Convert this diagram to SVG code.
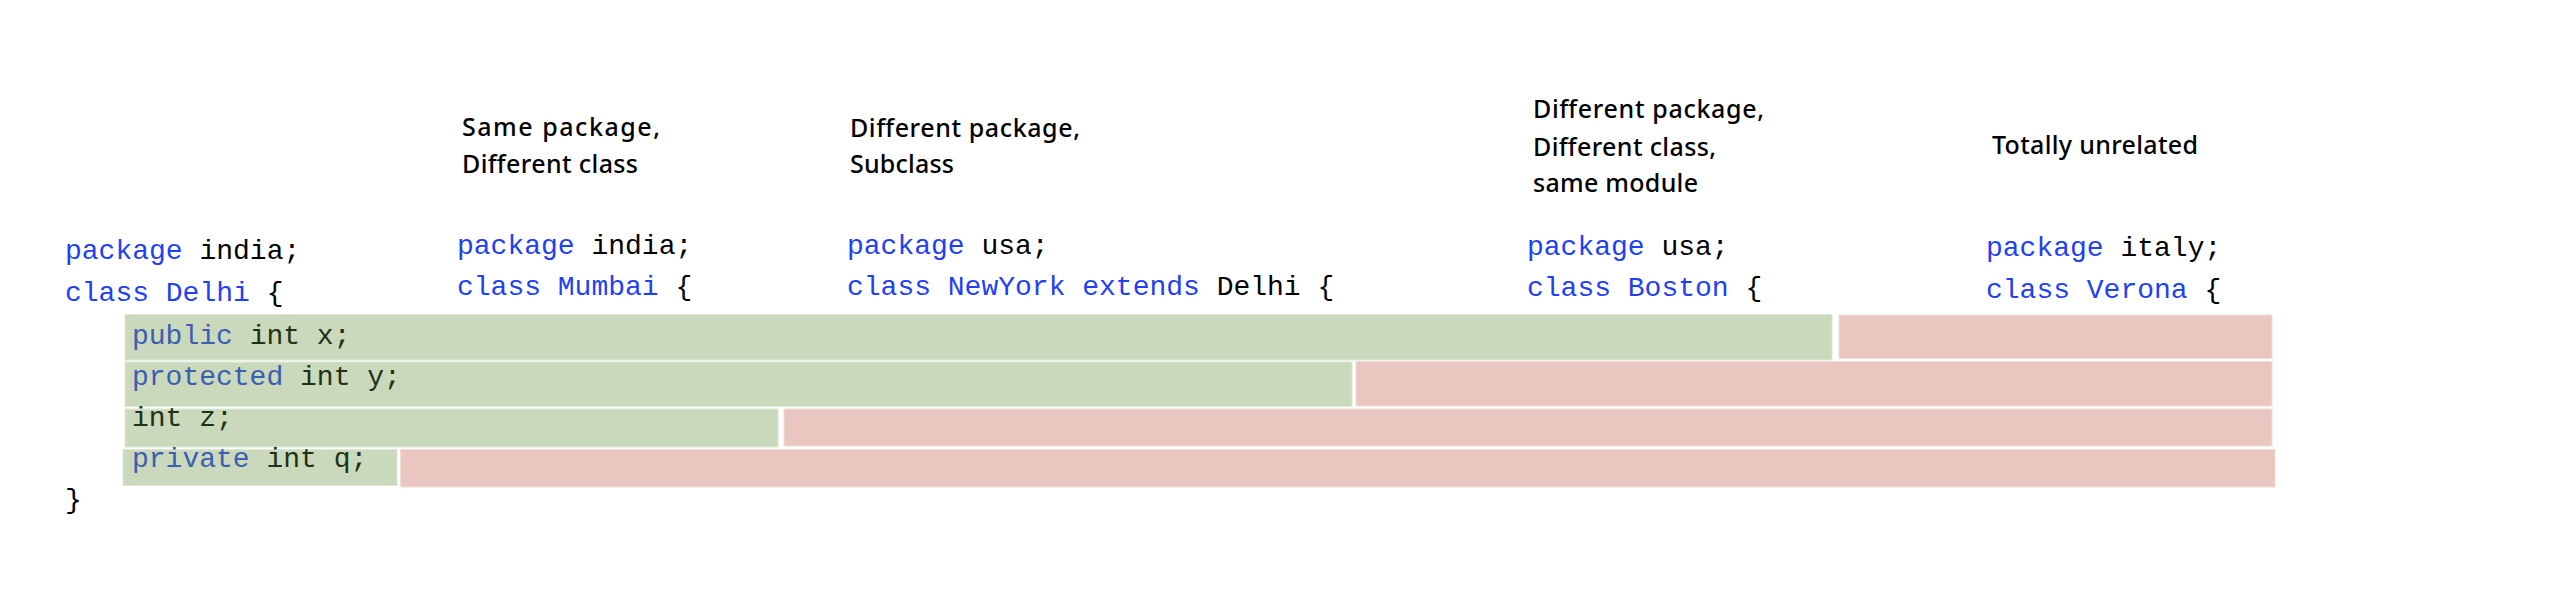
<svg xmlns="http://www.w3.org/2000/svg" width="2554" height="608" viewBox="0 0 2554 608">
<style>
.code{font-family:"Liberation Mono","Courier New",monospace;font-size:28px;fill:#000}
.kw{fill:#1f41f4}
.bk{fill:#3b5db2}
.bt{fill:#1f3116}
.hd{font-family:"Noto Sans",Lato,"Liberation Sans",sans-serif;font-size:25px;font-weight:500;fill:#000}
.g{fill:#cad9bb;stroke:#dde7d3;stroke-width:1}
.r{fill:#eac6c1;stroke:#f3dcd8;stroke-width:1}
</style>
<rect width="2554" height="608" fill="#fff"/>
<g id="connectors"/>
<g id="col-delhi">
<text class="code" x="65" y="259"><tspan class="kw">package</tspan> india;</text>
<text class="code" x="65" y="301"><tspan class="kw">class Delhi</tspan> {</text>
<text class="code" x="65" y="508">}</text>
</g>
<g id="col-mumbai">
<text class="hd" x="462" y="136" textLength="198" lengthAdjust="spacing">Same package,</text>
<text class="hd" x="462" y="173" textLength="176" lengthAdjust="spacing">Different class</text>
<text class="code" x="457" y="254"><tspan class="kw">package</tspan> india;</text>
<text class="code" x="457" y="295"><tspan class="kw">class Mumbai</tspan> {</text>
</g>
<g id="col-newyork">
<text class="hd" x="850" y="137" textLength="230" lengthAdjust="spacing">Different package,</text>
<text class="hd" x="850" y="173" textLength="104" lengthAdjust="spacing">Subclass</text>
<text class="code" x="847" y="254"><tspan class="kw">package</tspan> usa;</text>
<text class="code" x="847" y="295"><tspan class="kw">class NewYork extends</tspan> Delhi {</text>
</g>
<g id="col-boston">
<text class="hd" x="1533" y="118" textLength="231" lengthAdjust="spacing">Different package,</text>
<text class="hd" x="1533" y="156" textLength="183" lengthAdjust="spacing">Different class,</text>
<text class="hd" x="1533" y="192" textLength="165" lengthAdjust="spacing">same module</text>
<text class="code" x="1527" y="255"><tspan class="kw">package</tspan> usa;</text>
<text class="code" x="1527" y="296"><tspan class="kw">class Boston</tspan> {</text>
</g>
<g id="col-verona">
<text class="hd" x="1992" y="154" textLength="206" lengthAdjust="spacing">Totally unrelated</text>
<text class="code" x="1986" y="256"><tspan class="kw">package</tspan> italy;</text>
<text class="code" x="1986" y="298"><tspan class="kw">class Verona</tspan> {</text>
</g>
<g id="row-public">
<rect class="g" x="125" y="314.5" width="1707" height="45.5"/>
<rect class="r" x="1839" y="315" width="433" height="43.5"/>
<text class="code bt" x="132" y="344"><tspan class="bk">public</tspan> int x;</text>
</g>
<g id="row-protected">
<rect class="g" x="125" y="362" width="1227" height="44.5"/>
<rect class="r" x="1356" y="361.5" width="916" height="44.5"/>
<text class="code bt" x="132" y="385"><tspan class="bk">protected</tspan> int y;</text>
</g>
<g id="row-default">
<rect class="g" x="125" y="409" width="653" height="38"/>
<rect class="r" x="784" y="409" width="1488" height="37"/>
<text class="code bt" x="132" y="426">int z;</text>
</g>
<g id="row-private">
<rect class="g" x="123" y="449.5" width="274" height="36"/>
<rect class="r" x="400.5" y="449.5" width="1874.5" height="37.5"/>
<text class="code bt" x="132" y="467"><tspan class="bk">private</tspan> int q;</text>
</g>
</svg>
